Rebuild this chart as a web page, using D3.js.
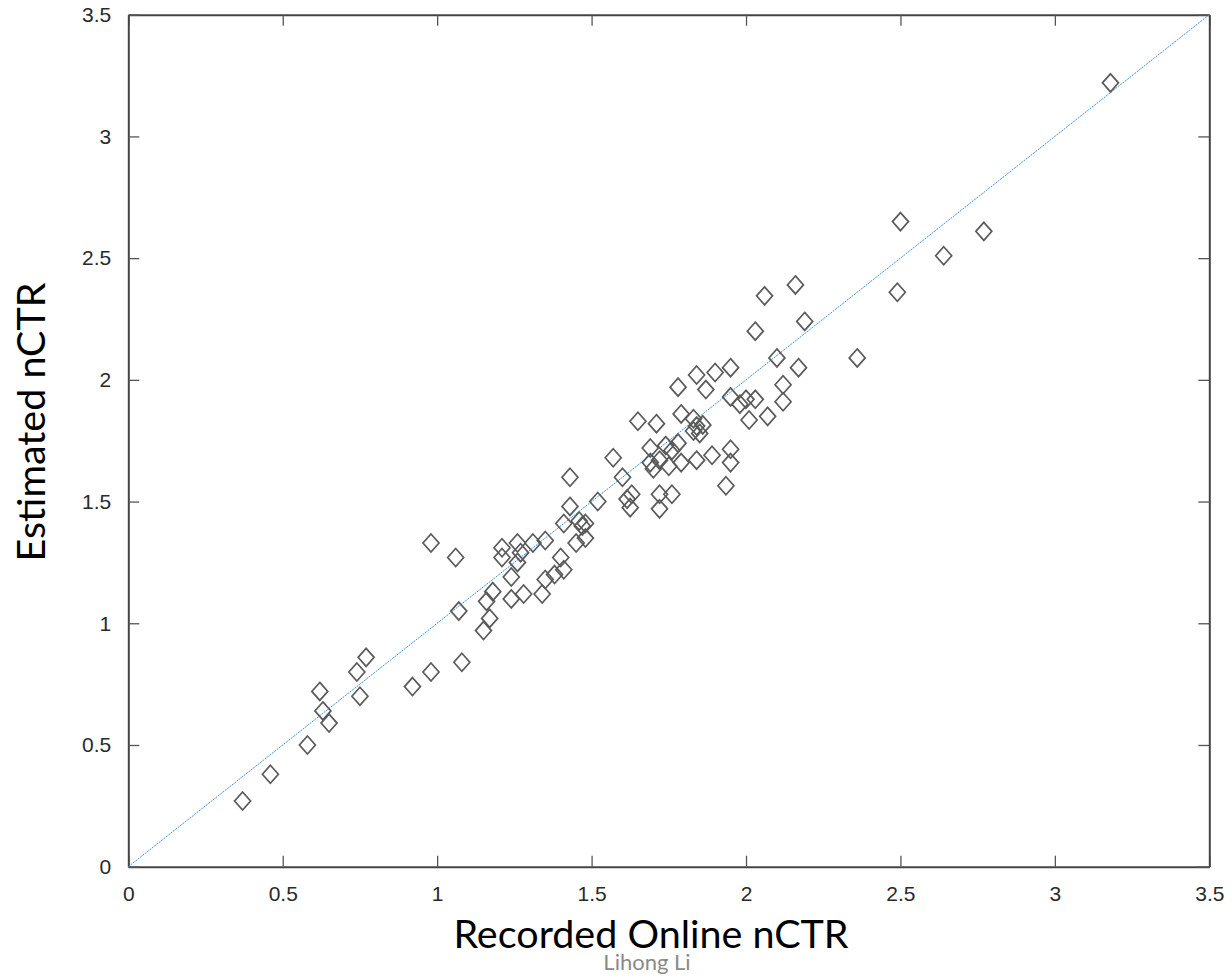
<!DOCTYPE html>
<html>
<head>
<meta charset="utf-8">
<script src="https://cdn.jsdelivr.net/npm/d3@7"></script>
<style>
  body { margin: 0; background: #fff; }
  svg { display: block; }
</style>
</head>
<body>
<script>
// recorded online nCTR (x) vs estimated nCTR (y)
const recordedX = [
  0.37, 0.46, 0.58, 0.62, 0.63, 0.65, 0.74, 0.77, 0.75, 0.92,
  0.98, 1.08, 0.98, 1.06, 1.07, 1.15, 1.17, 1.16, 1.18, 1.24,
  1.28, 1.21, 1.21, 1.26, 1.26, 1.24, 1.27, 1.31, 1.35, 1.34,
  1.35, 1.38, 1.41, 1.40, 1.41, 1.43, 1.43, 1.45, 1.48, 1.46,
  1.48, 1.47, 1.52, 1.57, 1.60, 1.615, 1.63, 1.625, 1.65, 1.71,
  1.69, 1.69, 1.70, 1.72, 1.74, 1.75, 1.76, 1.72, 1.72, 1.76,
  1.78, 1.78, 1.79, 1.79, 1.83, 1.84, 1.86, 1.85, 1.83, 1.84,
  1.84, 1.87, 1.90, 1.89, 1.95, 1.95, 1.95, 1.95, 1.935, 2.00,
  2.03, 1.98, 2.01, 2.07, 2.03, 2.06, 2.16, 2.19, 2.10, 2.17,
  2.12, 2.12, 2.36, 2.50, 2.49, 2.64, 2.77, 3.18
];
const estimatedY = [
  0.27, 0.38, 0.50, 0.72, 0.64, 0.59, 0.80, 0.86, 0.70, 0.74,
  0.80, 0.84, 1.33, 1.27, 1.05, 0.97, 1.02, 1.09, 1.13, 1.10,
  1.12, 1.31, 1.27, 1.33, 1.25, 1.19, 1.29, 1.33, 1.34, 1.12,
  1.18, 1.20, 1.22, 1.27, 1.41, 1.48, 1.60, 1.33, 1.35, 1.42,
  1.41, 1.40, 1.50, 1.68, 1.60, 1.51, 1.53, 1.475, 1.83, 1.82,
  1.72, 1.66, 1.635, 1.67, 1.73, 1.645, 1.71, 1.53, 1.47, 1.53,
  1.97, 1.74, 1.66, 1.86, 1.84, 1.81, 1.815, 1.78, 1.79, 1.67,
  2.02, 1.96, 2.03, 1.69, 2.05, 1.93, 1.715, 1.66, 1.565, 1.92,
  1.92, 1.90, 1.835, 1.85, 2.20, 2.345, 2.39, 2.24, 2.09, 2.05,
  1.98, 1.91, 2.09, 2.65, 2.36, 2.51, 2.61, 3.22
];
const tickValues = [0, 0.5, 1, 1.5, 2, 2.5, 3, 3.5];
const tickLabels = ["0", "0.5", "1", "1.5", "2", "2.5", "3", "3.5"];
const axisDomain = [0, 3.5];
const xTitle = "Recorded Online nCTR";
const yTitle = "Estimated nCTR";
const footer = "Lihong Li";

const width = 1232,
  height = 978,
  margin = {top: 14.7, right: 22.7, bottom: 111.3, left: 128.3},
  tickLen = 11;

const points = recordedX.map((x, i) => ({x: x, y: estimatedY[i]}));

const svg = d3.select("body")
  .append("svg")
  .attr("width", width)
  .attr("height", height);

const x = d3.scaleLinear()
  .domain(axisDomain)
  .range([margin.left, width - margin.right]);
const y = d3.scaleLinear()
  .domain(axisDomain)
  .range([height - margin.bottom, margin.top]);

const fmt = d => tickLabels[tickValues.indexOf(d)];

function styleAxis(g) {
  g.select(".domain").attr("stroke", "#444").attr("stroke-width", 2);
  g.selectAll(".tick line").attr("stroke", "#555").attr("stroke-width", 1.3);
  g.selectAll(".tick text")
    .attr("fill", "#2a2a2a")
    .style("font-family", "'Liberation Sans', Arial, sans-serif")
    .style("font-size", "21px");
}

// bottom
svg.append("g")
  .attr("transform", `translate(0,${y(0)})`)
  .call(d3.axisBottom(x).tickValues(tickValues).tickFormat(fmt)
    .tickSizeInner(-tickLen).tickSizeOuter(0).tickPadding(19))
  .call(styleAxis);

// top
svg.append("g")
  .attr("transform", `translate(0,${y(3.5)})`)
  .call(d3.axisTop(x).tickValues(tickValues).tickFormat("")
    .tickSizeInner(-tickLen).tickSizeOuter(0))
  .call(styleAxis);

// left
svg.append("g")
  .attr("transform", `translate(${x(0)},0)`)
  .call(d3.axisLeft(y).tickValues(tickValues).tickFormat(fmt)
    .tickSizeInner(-tickLen).tickSizeOuter(0).tickPadding(17))
  .call(styleAxis);

// right
svg.append("g")
  .attr("transform", `translate(${x(3.5)},0)`)
  .call(d3.axisRight(y).tickValues(tickValues).tickFormat("")
    .tickSizeInner(-tickLen).tickSizeOuter(0))
  .call(styleAxis);

// the y = x reference line
svg.append("line")
  .attr("x1", x(0)).attr("y1", y(0))
  .attr("x2", x(3.5)).attr("y2", y(3.5))
  .attr("stroke", "#3d8fe0")
  .attr("stroke-width", 1)
  .attr("stroke-dasharray", "2,1");

// matlab style diamond, a bit taller than wide
const diamond = {
  draw(ctx, size) {
    const h = 9, w = 8;
    ctx.moveTo(0, -h);
    ctx.lineTo(w, 0);
    ctx.lineTo(0, h);
    ctx.lineTo(-w, 0);
    ctx.closePath();
  }
};

svg.append("g")
  .selectAll("path")
  .data(points)
  .enter()
  .append("path")
  .attr("transform", d => `translate(${x(d.x)},${y(d.y)})`)
  .attr("d", d3.symbol().type(diamond))
  .attr("fill", "none")
  .attr("stroke", "#5a5a5a")
  .attr("stroke-width", 1.7);

// titles
svg.append("text")
  .attr("x", 651)
  .attr("y", 948)
  .attr("text-anchor", "middle")
  .style("font-family", "Lato, 'Open Sans', sans-serif")
  .style("font-size", "39.5px")
  .attr("fill", "#000")
  .text(xTitle);

svg.append("text")
  .attr("transform", `translate(45,422) rotate(-90)`)
  .attr("text-anchor", "middle")
  .style("font-family", "Lato, 'Open Sans', sans-serif")
  .style("font-size", "39.5px")
  .attr("fill", "#000")
  .text(yTitle);

svg.append("text")
  .attr("x", 647)
  .attr("y", 970)
  .attr("text-anchor", "middle")
  .style("font-family", "Lato, 'Open Sans', sans-serif")
  .style("font-size", "22px")
  .attr("fill", "#8a8a8a")
  .text(footer);
</script>
</body>
</html>
